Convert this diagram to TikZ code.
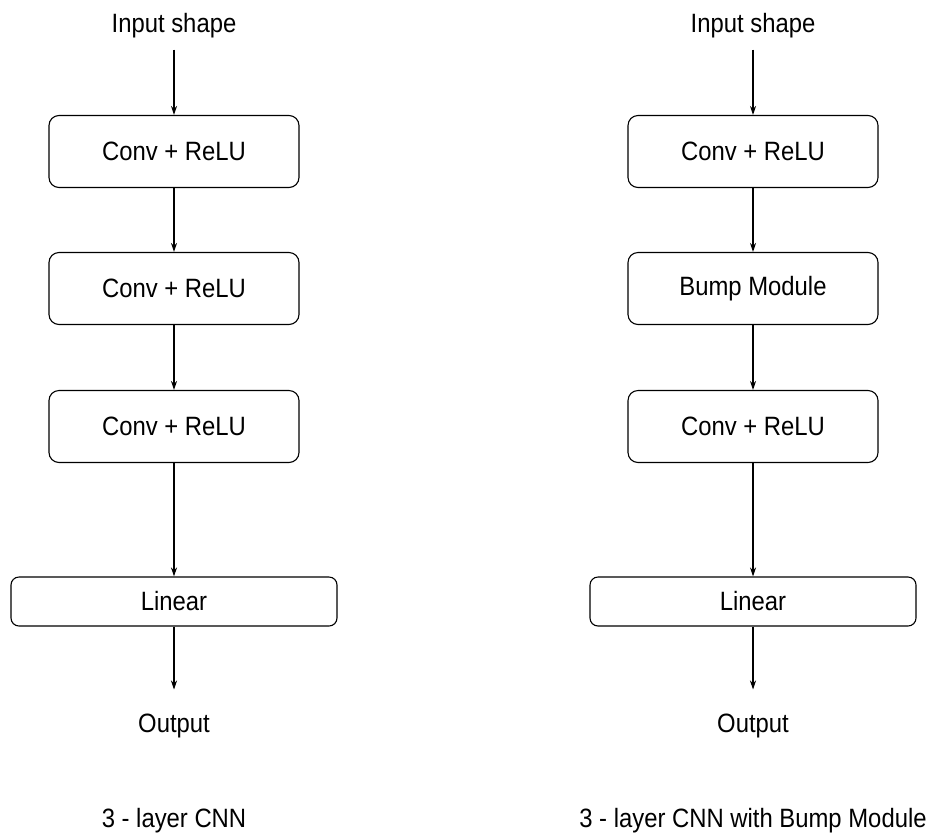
\documentclass[tikz,border=0pt]{standalone}
\usepackage{fontspec}
\setmainfont[FakeStretch=0.9]{Liberation Sans}
\usetikzlibrary{arrows.meta}

\tikzset{
  layer/.style={draw, rounded corners=10pt, minimum width=250pt, minimum height=72pt, line width=1.1pt, inner sep=0pt},
  head/.style={layer, minimum width=326pt, minimum height=49pt, rounded corners=8pt},
  txt/.style={inner sep=0pt, anchor=base},
  flow/.style={-{Stealth[length=9pt,width=6pt]}, line width=1.1pt}
}

\begin{document}
\begin{tikzpicture}[x=1pt,y=-1pt, font=\fontsize{26.5}{30}\selectfont]
  \useasboundingbox (0,0) rectangle (933,836);

  \draw[line width=0pt]
    (174,32)    node[txt] (in1) {Input shape}
    (174,151.5) node[layer] (c11) {Conv + ReLU}
    (174,288.5) node[layer] (c12) {Conv + ReLU}
    (174,426.5) node[layer] (c13) {Conv + ReLU}
    (174,601.5) node[head] (lin1) {Linear}
    (174,732)   node[txt] (out1) {Output}
    (174,827)   node[txt] (cap1) {3 - layer CNN};

  \draw[line width=0pt]
    (753,32)    node[txt] (in2) {Input shape}
    (753,151.5) node[layer] (c21) {Conv + ReLU}
    (753,288.5) node[layer] (bump) {Bump Module}
    (753,426.5) node[layer] (c23) {Conv + ReLU}
    (753,601.5) node[head] (lin2) {Linear}
    (753,732)   node[txt] (out2) {Output}
    (753,827)   node[txt] (cap2) {3 - layer CNN with Bump Module};

  \draw[flow, shorten <=12pt] (in1) -- (c11);
  \draw[flow] (c11) -- (c12);
  \draw[flow] (c12) -- (c13);
  \draw[flow] (c13) -- (lin1);
  \draw[flow, shorten >=24pt] (lin1) -- (out1);

  \draw[flow, shorten <=12pt] (in2) -- (c21);
  \draw[flow] (c21) -- (bump);
  \draw[flow] (bump) -- (c23);
  \draw[flow] (c23) -- (lin2);
  \draw[flow, shorten >=24pt] (lin2) -- (out2);
\end{tikzpicture}
\end{document}
